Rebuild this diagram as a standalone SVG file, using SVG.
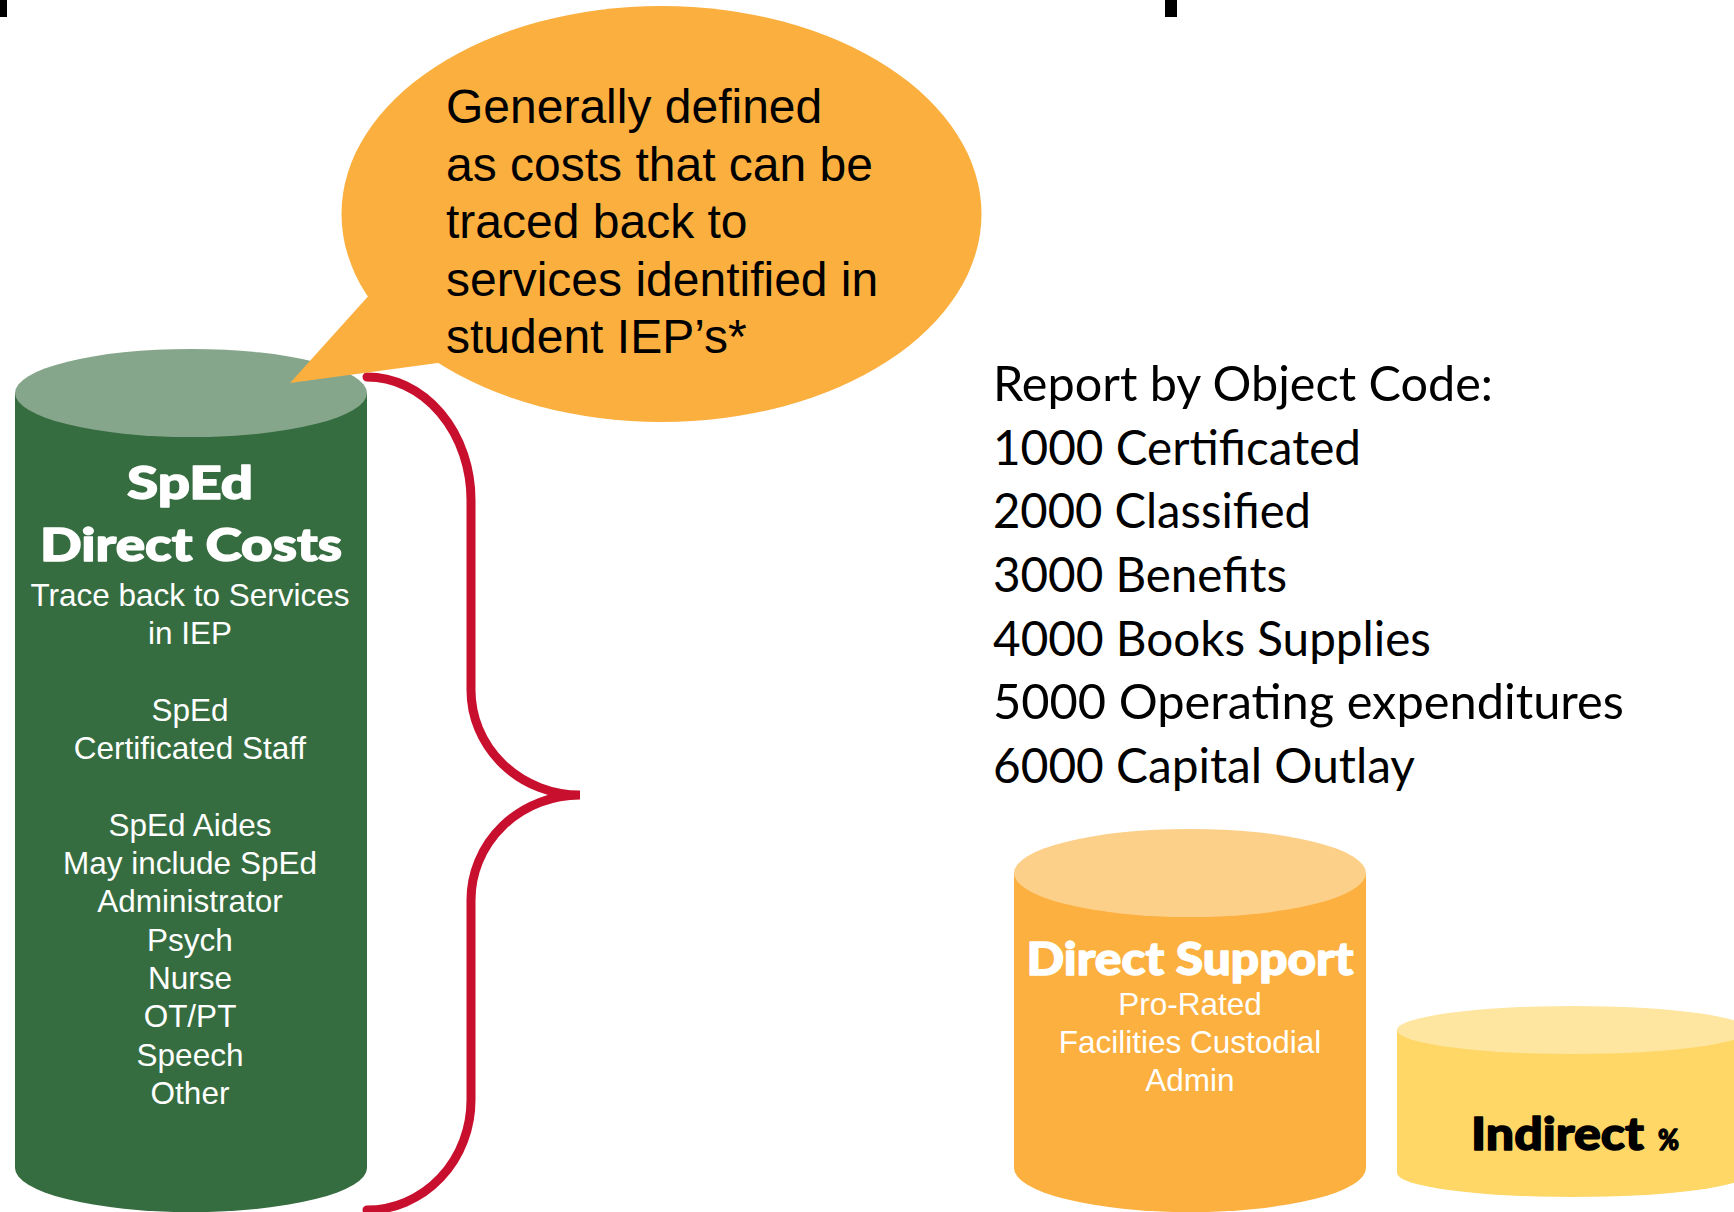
<svg xmlns="http://www.w3.org/2000/svg" width="1734" height="1212" viewBox="0 0 1734 1212">
<style>
.body{font-family:"Liberation Sans",Arial,sans-serif;font-size:31.5px;fill:#ffffff;text-anchor:middle}
.heavy{font-family:Lato,Roboto,Inter,"Liberation Sans",sans-serif;font-weight:900;stroke-width:1.4;stroke-linejoin:round}
.bub{font-family:"Liberation Sans",Arial,sans-serif;font-size:48px;fill:#000000}
.list{font-family:Lato,"Open Sans",sans-serif;font-size:48px;fill:#000000}
</style>
<rect width="1734" height="1212" fill="#ffffff"/>
<rect x="0" y="0" width="7" height="17" fill="#000000"/>
<rect x="1165" y="0" width="12" height="17" fill="#000000"/>

<g id="sped-direct-costs">
<path d="M15 393 L15 1168 A176 44 0 0 0 367 1168 L367 393 Z" fill="#366D40"/>
<ellipse cx="191" cy="393" rx="176" ry="44" fill="#86A68B"/>
<text class="heavy" x="190" y="499" font-size="46" fill="#ffffff" stroke="#ffffff" text-anchor="middle" textLength="126" lengthAdjust="spacingAndGlyphs">SpEd</text>
<text class="heavy" x="191" y="561" font-size="46" fill="#ffffff" stroke="#ffffff" text-anchor="middle" textLength="302" lengthAdjust="spacingAndGlyphs">Direct Costs</text>
<text class="body" x="190" y="606">Trace back to Services</text>
<text class="body" x="190" y="644">in IEP</text>
<text class="body" x="190" y="721">SpEd</text>
<text class="body" x="190" y="759">Certificated Staff</text>
<text class="body" x="190" y="836">SpEd Aides</text>
<text class="body" x="190" y="874">May include SpEd</text>
<text class="body" x="190" y="912">Administrator</text>
<text class="body" x="190" y="951">Psych</text>
<text class="body" x="190" y="989">Nurse</text>
<text class="body" x="190" y="1027">OT/PT</text>
<text class="body" x="190" y="1066">Speech</text>
<text class="body" x="190" y="1104">Other</text>
</g>

<g id="connectors">
<path d="M367 377 A104 123 0 0 1 471 500 L471 690 A109 105 0 0 0 580 795 A109 105 0 0 0 471 900 L471 1100 A104 110 0 0 1 367 1210" fill="none" stroke="#C8102E" stroke-width="9" stroke-linecap="round"/>
</g>

<g id="callout">
<ellipse cx="661.5" cy="214" rx="320" ry="208" fill="#FBAF3F"/>
<polygon points="372,292 290,383 445,362 460,300" fill="#FBAF3F"/>
<text class="bub" x="446" y="123">Generally defined</text>
<text class="bub" x="446" y="180.5">as costs that can be</text>
<text class="bub" x="446" y="238">traced back to</text>
<text class="bub" x="446" y="295.5">services identified in</text>
<text class="bub" x="446" y="353">student IEP’s*</text>
</g>

<g id="object-codes">
<text class="list" x="993" y="401" textLength="500" lengthAdjust="spacingAndGlyphs">Report by Object Code:</text>
<text class="list" x="993" y="465" textLength="368" lengthAdjust="spacingAndGlyphs">1000 Certificated</text>
<text class="list" x="993" y="528" textLength="318" lengthAdjust="spacingAndGlyphs">2000 Classified</text>
<text class="list" x="993" y="592" textLength="294" lengthAdjust="spacingAndGlyphs">3000 Benefits</text>
<text class="list" x="993" y="656" textLength="438" lengthAdjust="spacingAndGlyphs">4000 Books Supplies</text>
<text class="list" x="993" y="719" textLength="631" lengthAdjust="spacingAndGlyphs">5000 Operating expenditures</text>
<text class="list" x="993" y="783" textLength="422" lengthAdjust="spacingAndGlyphs">6000 Capital Outlay</text>
</g>

<g id="direct-support">
<path d="M1014 873 L1014 1168 A176 44 0 0 0 1366 1168 L1366 873 Z" fill="#FBB040"/>
<ellipse cx="1190" cy="873" rx="176" ry="44" fill="#FDD08A"/>
<text class="heavy" x="1190" y="975" font-size="46" fill="#ffffff" stroke="#ffffff" text-anchor="middle" textLength="327" lengthAdjust="spacingAndGlyphs">Direct Support</text>
<text class="body" x="1190" y="1015">Pro-Rated</text>
<text class="body" x="1190" y="1053">Facilities Custodial</text>
<text class="body" x="1190" y="1091">Admin</text>
</g>

<g id="indirect">
<path d="M1397 1030 L1397 1173 A176 24 0 0 0 1749 1173 L1749 1030 Z" fill="#FED766"/>
<ellipse cx="1573" cy="1030" rx="176" ry="24" fill="#FEE6A0"/>
<text class="heavy" x="1471" y="1150" font-size="46" fill="#000000" stroke="#000000" textLength="173" lengthAdjust="spacingAndGlyphs">Indirect</text>
<text class="heavy" x="1658" y="1150" font-size="29" fill="#000000" stroke="#000000" textLength="21" lengthAdjust="spacingAndGlyphs">%</text>
</g>
</svg>
